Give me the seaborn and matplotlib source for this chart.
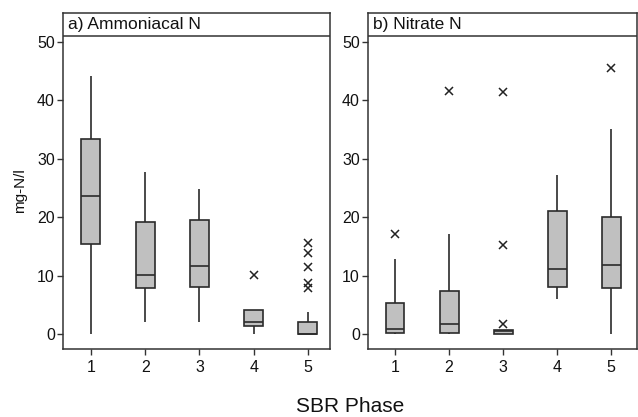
import pandas as pd
import seaborn as sns
import matplotlib.pyplot as plt

# SBR phases on the x axis
phases = ["1", "2", "3", "4", "5"]

# a) Ammoniacal N, box summaries (mg-N/l)
amm_low = [0.0, 2.0, 2.0, 0.0, 0.0]
amm_q1 = [15.5, 7.9, 8.1, 1.4, 0.0]
amm_med = [23.7, 10.1, 11.6, 2.0, 0.0]
amm_q3 = [33.4, 19.2, 19.5, 4.1, 2.1]
amm_high = [44.2, 27.8, 24.9, 4.1, 3.8]
amm_out = [[], [], [], [10.1], [7.9, 8.7, 11.4, 13.9, 15.6]]

# b) Nitrate N
nit_low = [0.0, 0.0, 0.0, 6.0, 0.0]
nit_q1 = [0.2, 0.2, 0.05, 8.1, 7.9]
nit_med = [0.9, 1.7, 0.5, 11.1, 11.9]
nit_q3 = [5.3, 7.3, 0.7, 21.1, 20.1]
nit_high = [12.8, 17.1, 0.7, 27.2, 35.1]
nit_out = [[17.2], [41.6], [1.8, 15.2, 41.4], [], [45.5]]

titles = ["a) Ammoniacal N", "b) Nitrate N"]


def expand(low, q1, med, q3, high, out):
    # sample of 4m+1 points whose percentiles give back the summary
    m = len(out) + 1
    return ([low] * m + [q1] * m + [med] * m + [q3]
            + [high] + sorted(out))


def to_frame(lows, q1s, meds, q3s, highs, outs):
    rows = []
    for i, p in enumerate(phases):
        for v in expand(lows[i], q1s[i], meds[i], q3s[i], highs[i], outs[i]):
            rows.append({"phase": p, "value": v})
    return pd.DataFrame(rows)


amm_df = to_frame(amm_low, amm_q1, amm_med, amm_q3, amm_high, amm_out)
nit_df = to_frame(nit_low, nit_q1, nit_med, nit_q3, nit_high, nit_out)

sns.set_style("ticks")
plt.rcParams["font.family"] = ["Liberation Sans", "DejaVu Sans"]

frame = "#333333"
fig = plt.figure(figsize=(6.38, 4.17), dpi=100)
ax_a = fig.add_axes([0.0987, 0.163, 0.4183, 0.806])
ax_b = fig.add_axes([0.5768, 0.163, 0.4212, 0.806])

for ax, df, title, xr in [(ax_a, amm_df, titles[0], (-0.516, 4.405)),
                          (ax_b, nit_df, titles[1], (-0.5, 4.47))]:
    sns.boxplot(data=df, x="phase", y="value", ax=ax, width=0.35,
                color="#c0c0c0", saturation=1, linecolor="#2b2b2b",
                linewidth=1.2, showcaps=False,
                flierprops=dict(marker="x", markersize=6,
                                markeredgewidth=1.1,
                                markeredgecolor="#222222"))
    ax.set_xlim(*xr)
    ax.set_ylim(-2.57, 55.0)
    ax.set_yticks([0, 10, 20, 30, 40, 50])
    ax.axhline(51.0, color=frame, lw=1.1)
    ax.text(0.019, 53.0, title, transform=ax.get_yaxis_transform(),
            ha="left", va="center", fontsize=12.5, color="#111111")
    ax.set_xlabel("")
    ax.set_ylabel("")
    for s in ax.spines.values():
        s.set_visible(True)
        s.set_color(frame)
        s.set_linewidth(1.1)
    ax.tick_params(axis="both", direction="out", length=4.3, width=1.0,
                   color=frame, labelsize=11.5, labelcolor="#111111")
    ax.tick_params(axis="y", pad=1.5)
    ax.tick_params(axis="x", pad=3.5)

fig.text(0.031, 0.544, "mg-N/l", rotation=90, ha="center", va="center",
         fontsize=11, color="#111111")
fig.text(0.549, 0.026, "SBR Phase", ha="center", va="center",
         fontsize=15, color="#111111")

fig.savefig("out.png", dpi=100)
